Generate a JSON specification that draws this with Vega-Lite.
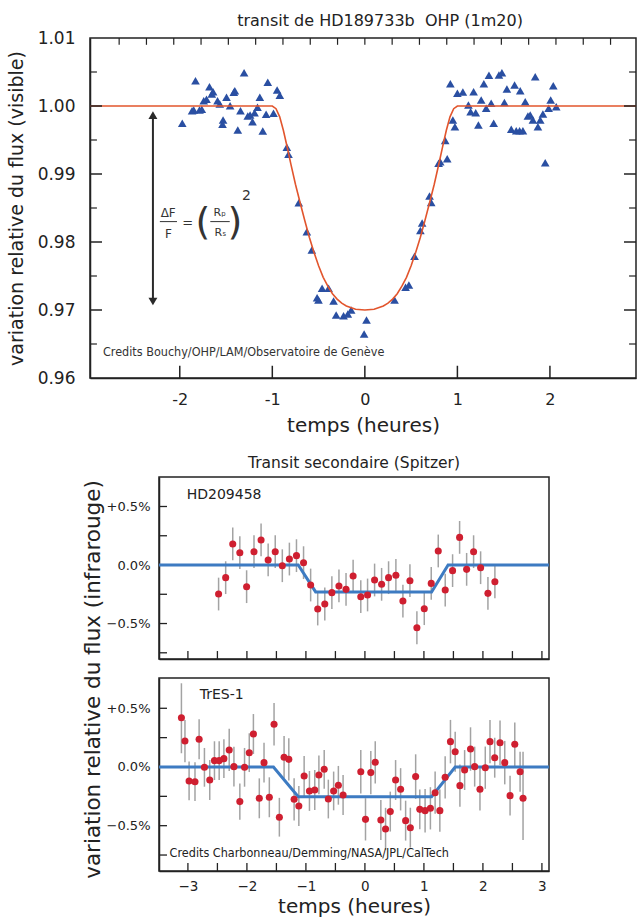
{
"$schema": "https://vega.github.io/schema/vega-lite/v6.json",
"padding": {"left": 6, "top": 12, "right": 0, "bottom": 2},
"background": "white",
"config": {
 "font": "DejaVu Sans",
 "view": {"stroke": "#222", "strokeWidth": 1.5},
 "axis": {"domainColor": "#222", "domainWidth": 1.5, "ticks": false, "labelColor": "#222", "titleColor": "#222", "grid": false, "labelFont": "DejaVu Sans", "titleFont": "DejaVu Sans", "titleFontWeight": "normal", "labelOverlap": false},
 "title": {"font": "DejaVu Sans", "fontWeight": "normal", "color": "#222"}
},
"datasets": {
 "top": [
  {"t":-1.973,"flux":0.99746},{"t":-1.83,"flux":1.00372},{"t":-1.867,"flux":0.99931},{"t":-1.849,"flux":0.99941},{"t":-1.787,"flux":0.99941},{"t":-1.762,"flux":0.99951},{"t":-1.741,"flux":1.00078},{"t":-1.711,"flux":1.00099},{"t":-1.679,"flux":1.00284},{"t":-1.64,"flux":1.0021},{"t":-1.654,"flux":1.00176},{"t":-1.592,"flux":1.00078},{"t":-1.568,"flux":1.00029},{"t":-1.532,"flux":0.99794},{"t":-1.538,"flux":0.99731},{"t":-1.495,"flux":1.00128},{"t":-1.456,"flux":1.00004},{"t":-1.416,"flux":1.00201},{"t":-1.405,"flux":1.00225},{"t":-1.373,"flux":0.99647},{"t":-1.344,"flux":0.99931},{"t":-1.305,"flux":1.0049},{"t":-1.265,"flux":0.99853},{"t":-1.24,"flux":0.99868},{"t":-1.214,"flux":0.99769},{"t":-1.192,"flux":0.99901},{"t":-1.16,"flux":0.99981},{"t":-1.135,"flux":1.00128},{"t":-1.103,"flux":0.99632},{"t":-1.067,"flux":0.99878},{"t":-1.049,"flux":1.00349},{"t":-0.987,"flux":0.99893},{"t":-0.948,"flux":1.00235},{"t":-0.919,"flux":1.00157},
  {"t":-0.843,"flux":0.99393},{"t":-0.825,"flux":0.9929},{"t":-0.714,"flux":0.98578},{"t":-0.627,"flux":0.98151},{"t":-0.573,"flux":0.97882},
  {"t":-0.516,"flux":0.97181},{"t":-0.501,"flux":0.97147},{"t":-0.462,"flux":0.97319},{"t":-0.392,"flux":0.97319},{"t":-0.338,"flux":0.97132},{"t":-0.31,"flux":0.96926},{"t":-0.23,"flux":0.96916},{"t":-0.184,"flux":0.96941},{"t":-0.148,"flux":0.97},{"t":0.018,"flux":0.96853},{"t":-0.008,"flux":0.96647},{"t":0.321,"flux":0.97147},{"t":0.44,"flux":0.97334},{"t":0.476,"flux":0.97368},
  {"t":0.537,"flux":0.9779},{"t":0.6,"flux":0.98169},{"t":0.619,"flux":0.98279},{"t":0.699,"flux":0.98676},{"t":0.717,"flux":0.98581},{"t":0.797,"flux":0.99157},{"t":0.814,"flux":0.99181},{"t":0.89,"flux":0.99225},{"t":0.868,"flux":0.99493},{"t":0.951,"flux":0.99794},{"t":0.973,"flux":0.99696},
  {"t":0.924,"flux":1.00328},{"t":1.0,"flux":1.00187},{"t":1.059,"flux":1.00206},{"t":1.119,"flux":1.00015},{"t":1.143,"flux":0.99916},{"t":1.198,"flux":0.99901},{"t":1.175,"flux":1.0021},{"t":1.227,"flux":0.99721},{"t":1.257,"flux":1.00088},{"t":1.286,"flux":1.00328},{"t":1.311,"flux":0.99966},{"t":1.341,"flux":1.00451},{"t":1.365,"flux":1.0004},{"t":1.392,"flux":0.99746},{"t":1.449,"flux":1.00456},{"t":1.481,"flux":1.0049},{"t":1.508,"flux":1.00051},{"t":1.535,"flux":1.0025},{"t":1.582,"flux":0.99657},{"t":1.618,"flux":1.00309},{"t":1.636,"flux":0.99637},{"t":1.672,"flux":0.99637},{"t":1.708,"flux":0.99637},{"t":1.679,"flux":1.00225},{"t":1.733,"flux":1.00063},{"t":1.762,"flux":0.99853},{"t":1.787,"flux":0.99868},{"t":1.816,"flux":0.99794},{"t":1.841,"flux":1.00431},{"t":1.87,"flux":0.99696},{"t":1.895,"flux":0.99794},{"t":1.924,"flux":0.99882},{"t":1.949,"flux":0.99166},{"t":1.986,"flux":0.99966},{"t":2.008,"flux":1.00088},{"t":2.036,"flux":1.00299},{"t":2.068,"flux":0.9999}
 ],
 "curve": [
  {"t":-2.97,"flux":1.0},{"t":-1.0,"flux":1.0},{"t":-0.96,"flux":0.9996},{"t":-0.92,"flux":0.9984},{"t":-0.88,"flux":0.9964},{"t":-0.84,"flux":0.994},{"t":-0.8,"flux":0.9915},{"t":-0.75,"flux":0.9885},{"t":-0.7,"flux":0.9858},{"t":-0.65,"flux":0.9832},{"t":-0.6,"flux":0.9807},{"t":-0.55,"flux":0.9785},{"t":-0.5,"flux":0.9765},{"t":-0.45,"flux":0.9748},{"t":-0.4,"flux":0.9735},{"t":-0.35,"flux":0.9724},{"t":-0.3,"flux":0.9716},{"t":-0.25,"flux":0.971},{"t":-0.2,"flux":0.9706},{"t":-0.1,"flux":0.9701},{"t":0,"flux":0.97},
  {"t":0.1,"flux":0.9701},{"t":0.2,"flux":0.9706},{"t":0.25,"flux":0.971},{"t":0.3,"flux":0.9716},{"t":0.35,"flux":0.9724},{"t":0.4,"flux":0.9735},{"t":0.45,"flux":0.9748},{"t":0.5,"flux":0.9765},{"t":0.55,"flux":0.9785},{"t":0.6,"flux":0.9807},{"t":0.65,"flux":0.9832},{"t":0.7,"flux":0.9858},{"t":0.75,"flux":0.9885},{"t":0.8,"flux":0.9915},{"t":0.84,"flux":0.994},{"t":0.88,"flux":0.9964},{"t":0.92,"flux":0.9984},{"t":0.96,"flux":0.9996},{"t":1.0,"flux":1.0},{"t":2.93,"flux":1.0}
 ],
 "topMajorY": [{"flux":0.97},{"flux":0.98},{"flux":0.99},{"flux":1.0}],
 "topMinorY": [{"flux":0.965},{"flux":0.975},{"flux":0.985},{"flux":0.995},{"flux":1.005}],
 "topBottomX": [{"t":-2},{"t":-1},{"t":0},{"t":1},{"t":2}],
 "topTopX": [{"t":-2.655},{"t":-2.36},{"t":-2.065},{"t":-1.77},{"t":-1.475},{"t":-1.18},{"t":-0.885},{"t":-0.59},{"t":-0.295},{"t":0},{"t":0.295},{"t":0.59},{"t":0.885},{"t":1.18},{"t":1.475},{"t":1.77},{"t":2.065},{"t":2.36},{"t":2.655}],
 "pTickY": [{"v":-0.75},{"v":-0.5},{"v":-0.25},{"v":0},{"v":0.25},{"v":0.5}],
 "pTickX": [{"t":-3},{"t":-2.5},{"t":-2},{"t":-1.5},{"t":-1},{"t":-0.5},{"t":0},{"t":0.5},{"t":1},{"t":1.5},{"t":2},{"t":2.5},{"t":3}],
 "p1": [
  {"t":-2.48,"v":-0.248,"lo":-0.388,"hi":-0.108},{"t":-2.36,"v":-0.108,"lo":-0.248,"hi":0.032},{"t":-2.24,"v":0.18,"lo":0.04,"hi":0.32},{"t":-2.12,"v":0.105,"lo":-0.035,"hi":0.245},{"t":-2.005,"v":-0.185,"lo":-0.325,"hi":-0.045},{"t":-1.88,"v":0.114,"lo":-0.026,"hi":0.254},{"t":-1.76,"v":0.214,"lo":0.074,"hi":0.354},{"t":-1.64,"v":0.043,"lo":-0.097,"hi":0.183},{"t":-1.52,"v":0.114,"lo":-0.026,"hi":0.254},{"t":-1.4,"v":-0.006,"lo":-0.146,"hi":0.134},{"t":-1.28,"v":0.051,"lo":-0.089,"hi":0.191},{"t":-1.16,"v":0.08,"lo":-0.06,"hi":0.22},{"t":-1.04,"v":0.02,"lo":-0.12,"hi":0.16},{"t":-0.92,"v":-0.171,"lo":-0.311,"hi":-0.031},{"t":-0.8,"v":-0.376,"lo":-0.516,"hi":-0.236},{"t":-0.68,"v":-0.333,"lo":-0.473,"hi":-0.193},{"t":-0.56,"v":-0.236,"lo":-0.376,"hi":-0.096},{"t":-0.44,"v":-0.179,"lo":-0.319,"hi":-0.039},{"t":-0.32,"v":-0.208,"lo":-0.348,"hi":-0.068},{"t":-0.2,"v":-0.094,"lo":-0.234,"hi":0.046},
  {"t":-0.07,"v":-0.271,"lo":-0.411,"hi":-0.131},{"t":0.045,"v":-0.256,"lo":-0.396,"hi":-0.116},{"t":0.164,"v":-0.128,"lo":-0.268,"hi":0.012},{"t":0.283,"v":-0.165,"lo":-0.305,"hi":-0.025},{"t":0.401,"v":-0.108,"lo":-0.248,"hi":0.032},{"t":0.525,"v":-0.088,"lo":-0.228,"hi":0.052},{"t":0.644,"v":-0.308,"lo":-0.448,"hi":-0.168},{"t":0.763,"v":-0.134,"lo":-0.274,"hi":0.006},{"t":0.881,"v":-0.536,"lo":-0.676,"hi":-0.396},{"t":1.006,"v":-0.373,"lo":-0.513,"hi":-0.233},{"t":1.124,"v":-0.157,"lo":-0.297,"hi":-0.017},{"t":1.243,"v":0.12,"lo":-0.02,"hi":0.26},{"t":1.361,"v":-0.214,"lo":-0.354,"hi":-0.074},{"t":1.486,"v":-0.048,"lo":-0.188,"hi":0.092},{"t":1.605,"v":0.236,"lo":0.096,"hi":0.376},{"t":1.724,"v":-0.037,"lo":-0.177,"hi":0.103},{"t":1.842,"v":0.114,"lo":-0.026,"hi":0.254},{"t":1.961,"v":-0.023,"lo":-0.163,"hi":0.117},{"t":2.085,"v":-0.242,"lo":-0.382,"hi":-0.102},{"t":2.203,"v":-0.143,"lo":-0.283,"hi":-0.003}
 ],
 "p1fit": [
  {"t":-3.49,"v":0},{"t":-1.13,"v":0},{"t":-0.835,"v":-0.23},{"t":1.13,"v":-0.23},{"t":1.41,"v":0},{"t":3.12,"v":0}
 ],
 "p2": [
  {"t":-3.11,"v":0.42,"lo":0.117,"hi":0.713},{"t":-3.05,"v":0.221,"lo":0.041,"hi":0.401},{"t":-2.98,"v":-0.119,"lo":-0.284,"hi":0.046},{"t":-2.88,"v":-0.125,"lo":-0.29,"hi":0.04},{"t":-2.81,"v":0.236,"lo":0.066,"hi":0.406},{"t":-2.72,"v":-0.003,"lo":-0.168,"hi":0.162},{"t":-2.63,"v":-0.111,"lo":-0.281,"hi":0.059},{"t":-2.55,"v":0.054,"lo":-0.111,"hi":0.219},{"t":-2.47,"v":0.054,"lo":-0.111,"hi":0.219},{"t":-2.39,"v":0.071,"lo":-0.094,"hi":0.236},{"t":-2.3,"v":0.145,"lo":-0.035,"hi":0.325},{"t":-2.22,"v":0.003,"lo":-0.167,"hi":0.173},{"t":-2.12,"v":-0.295,"lo":-0.45,"hi":-0.14},{"t":-2.04,"v":-0.003,"lo":-0.168,"hi":0.162},{"t":-1.96,"v":0.122,"lo":-0.043,"hi":0.287},{"t":-1.89,"v":0.281,"lo":0.111,"hi":0.451},{"t":-1.79,"v":-0.267,"lo":-0.437,"hi":-0.097},{"t":-1.71,"v":0.037,"lo":-0.133,"hi":0.207},{"t":-1.62,"v":-0.258,"lo":-0.428,"hi":-0.088},{"t":-1.54,"v":0.364,"lo":0.184,"hi":0.544},{"t":-1.45,"v":-0.428,"lo":-0.593,"hi":-0.263},{"t":-1.37,"v":0.083,"lo":-0.097,"hi":0.263},{"t":-1.29,"v":0.065,"lo":-0.115,"hi":0.245},{"t":-1.2,"v":-0.275,"lo":-0.455,"hi":-0.095},{"t":-1.12,"v":-0.332,"lo":-0.502,"hi":-0.162},{"t":-1.03,"v":-0.077,"lo":-0.247,"hi":0.093},{"t":-0.94,"v":-0.204,"lo":-0.374,"hi":-0.034},{"t":-0.85,"v":-0.196,"lo":-0.366,"hi":-0.026},{"t":-0.78,"v":-0.068,"lo":-0.233,"hi":0.097},{"t":-0.69,"v":-0.02,"lo":-0.185,"hi":0.145},{"t":-0.62,"v":-0.273,"lo":-0.438,"hi":-0.108},{"t":-0.53,"v":-0.204,"lo":-0.369,"hi":-0.039},{"t":-0.45,"v":-0.156,"lo":-0.321,"hi":0.009},{"t":-0.37,"v":-0.238,"lo":-0.408,"hi":-0.068},
  {"t":-0.07,"v":-0.04,"lo":-0.225,"hi":0.145},{"t":0.01,"v":-0.446,"lo":-0.626,"hi":-0.266},{"t":0.1,"v":-0.048,"lo":-0.233,"hi":0.137},{"t":0.175,"v":0.04,"lo":-0.14,"hi":0.22},{"t":0.27,"v":-0.451,"lo":-0.621,"hi":-0.281},{"t":0.35,"v":-0.528,"lo":-0.708,"hi":-0.348},{"t":0.43,"v":-0.38,"lo":-0.55,"hi":-0.21},{"t":0.52,"v":-0.111,"lo":-0.281,"hi":0.059},{"t":0.605,"v":-0.19,"lo":-0.37,"hi":-0.01},{"t":0.69,"v":-0.457,"lo":-0.627,"hi":-0.287},{"t":0.77,"v":-0.517,"lo":-0.687,"hi":-0.347},{"t":0.86,"v":-0.082,"lo":-0.272,"hi":0.108},{"t":0.93,"v":-0.361,"lo":-0.531,"hi":-0.191},{"t":1.02,"v":-0.372,"lo":-0.557,"hi":-0.187},{"t":1.11,"v":-0.352,"lo":-0.532,"hi":-0.172},{"t":1.19,"v":-0.219,"lo":-0.399,"hi":-0.039},{"t":1.27,"v":-0.372,"lo":-0.552,"hi":-0.192},{"t":1.36,"v":-0.088,"lo":-0.268,"hi":0.092},{"t":1.45,"v":0.216,"lo":0.031,"hi":0.401},{"t":1.53,"v":0.13,"lo":-0.04,"hi":0.3},{"t":1.61,"v":-0.159,"lo":-0.339,"hi":0.021},{"t":1.69,"v":-0.026,"lo":-0.196,"hi":0.144},{"t":1.79,"v":0.153,"lo":-0.032,"hi":0.338},{"t":1.86,"v":0.003,"lo":-0.167,"hi":0.173},{"t":1.95,"v":-0.19,"lo":-0.37,"hi":-0.01},{"t":2.04,"v":-0.006,"lo":-0.186,"hi":0.174},{"t":2.12,"v":0.216,"lo":0.031,"hi":0.401},{"t":2.2,"v":0.079,"lo":-0.091,"hi":0.249},{"t":2.29,"v":0.207,"lo":0.017,"hi":0.397},{"t":2.37,"v":0.037,"lo":-0.148,"hi":0.222},{"t":2.46,"v":-0.244,"lo":-0.414,"hi":-0.074},{"t":2.54,"v":0.193,"lo":0.008,"hi":0.378},{"t":2.63,"v":-0.04,"lo":-0.21,"hi":0.13},{"t":2.68,"v":-0.267,"lo":-0.622,"hi":0.13}
 ],
 "p2fit": [
  {"t":-3.49,"v":0},{"t":-1.55,"v":0},{"t":-1.13,"v":-0.253},{"t":1.13,"v":-0.253},{"t":1.53,"v":0},{"t":3.12,"v":0}
 ]
},
"bounds": "flush",
"spacing": 99,
"vconcat": [
 {
  "width": 546, "height": 340,
  "title": {"text": "transit de HD189733b\u00a0 OHP (1m20)", "fontSize": 16, "offset": 0, "dx": 17},
  "layer": [
   {"data": {"name": "top"},
    "mark": {"type": "point", "shape": "triangle-up", "filled": true, "color": "#2a4fa2", "size": 75, "opacity": 1},
    "encoding": {
     "x": {"field": "t", "type": "quantitative", "scale": {"domain": [-2.97, 2.93], "nice": false, "zero": false},
      "axis": {"values": [-2, -1, 0, 1, 2], "labelExpr": "datum.value < 0 ? '-' + abs(datum.value) : '' + datum.value", "labelPadding": 13, "labelFontSize": 16, "title": "temps (heures)", "titleFontSize": 20, "titlePadding": 8}},
     "y": {"field": "flux", "type": "quantitative", "scale": {"domain": [0.96, 1.01], "nice": false, "zero": false},
      "axis": {"values": [0.96, 0.97, 0.98, 0.99, 1.0, 1.01], "format": ".2f", "labelPadding": 15, "labelFontSize": 17, "title": "variation relative du flux (visible)", "titleFontSize": 19, "titlePadding": 11}}
    }},
   {"data": {"name": "curve"},
    "mark": {"type": "line", "color": "#e2552d", "strokeWidth": 1.6},
    "encoding": {"x": {"field": "t", "type": "quantitative"}, "y": {"field": "flux", "type": "quantitative"}}},
   {"data": {"name": "topMajorY"},
    "mark": {"type": "rule", "color": "#222", "strokeWidth": 1.5},
    "encoding": {"y": {"field": "flux", "type": "quantitative"}, "x": {"datum": -2.97, "type": "quantitative"}, "x2": {"datum": -2.84}}},
   {"data": {"name": "topMinorY"},
    "mark": {"type": "rule", "color": "#222", "strokeWidth": 1.2},
    "encoding": {"y": {"field": "flux", "type": "quantitative"}, "x": {"datum": -2.97, "type": "quantitative"}, "x2": {"datum": -2.895}}},
   {"data": {"name": "topMajorY"},
    "mark": {"type": "rule", "color": "#222", "strokeWidth": 1.5},
    "encoding": {"y": {"field": "flux", "type": "quantitative"}, "x": {"datum": 2.93, "type": "quantitative"}, "x2": {"datum": 2.8}}},
   {"data": {"name": "topMinorY"},
    "mark": {"type": "rule", "color": "#222", "strokeWidth": 1.2},
    "encoding": {"y": {"field": "flux", "type": "quantitative"}, "x": {"datum": 2.93, "type": "quantitative"}, "x2": {"datum": 2.855}}},
   {"data": {"name": "topBottomX"},
    "mark": {"type": "rule", "color": "#222", "strokeWidth": 1.5},
    "encoding": {"x": {"field": "t", "type": "quantitative"}, "y": {"datum": 0.96, "type": "quantitative"}, "y2": {"datum": 0.9618}}},
   {"data": {"name": "topTopX"},
    "mark": {"type": "rule", "color": "#222", "strokeWidth": 1.2},
    "encoding": {"x": {"field": "t", "type": "quantitative"}, "y": {"datum": 1.01, "type": "quantitative"}, "y2": {"datum": 1.009}}},
   {"data": {"values": [{}]},
    "mark": {"type": "rule", "color": "#2a2a2a", "strokeWidth": 2},
    "encoding": {"x": {"datum": -2.29, "type": "quantitative"}, "y": {"datum": 0.9988, "type": "quantitative"}, "y2": {"datum": 0.9714}}},
   {"data": {"values": [{}]},
    "mark": {"type": "point", "shape": "triangle-up", "filled": true, "color": "#2a2a2a", "size": 80, "opacity": 1},
    "encoding": {"x": {"datum": -2.29, "type": "quantitative"}, "y": {"datum": 0.99865, "type": "quantitative"}}},
   {"data": {"values": [{}]},
    "mark": {"type": "point", "shape": "triangle-down", "filled": true, "color": "#2a2a2a", "size": 80, "opacity": 1},
    "encoding": {"x": {"datum": -2.29, "type": "quantitative"}, "y": {"datum": 0.97125, "type": "quantitative"}}},
   {"data": {"values": [{}]},
    "mark": {"type": "text", "text": "ΔF", "fontSize": 12, "color": "#333"},
    "encoding": {"x": {"datum": -2.125, "type": "quantitative"}, "y": {"datum": 0.9843, "type": "quantitative"}}},
   {"data": {"values": [{}]},
    "mark": {"type": "text", "text": "F", "fontSize": 12, "color": "#333"},
    "encoding": {"x": {"datum": -2.122, "type": "quantitative"}, "y": {"datum": 0.9812, "type": "quantitative"}}},
   {"data": {"values": [{}]},
    "mark": {"type": "rule", "color": "#333", "strokeWidth": 1},
    "encoding": {"x": {"datum": -2.215, "type": "quantitative"}, "x2": {"datum": -2.03}, "y": {"datum": 0.983, "type": "quantitative"}}},
   {"data": {"values": [{}]},
    "mark": {"type": "text", "text": "=", "fontSize": 13, "color": "#333"},
    "encoding": {"x": {"datum": -1.914, "type": "quantitative"}, "y": {"datum": 0.9828, "type": "quantitative"}}},
   {"data": {"values": [{}]},
    "mark": {"type": "text", "text": "(", "fontSize": 38, "color": "#333"},
    "encoding": {"x": {"datum": -1.751, "type": "quantitative"}, "y": {"datum": 0.9828, "type": "quantitative"}}},
   {"data": {"values": [{}]},
    "mark": {"type": "text", "text": ")", "fontSize": 38, "color": "#333"},
    "encoding": {"x": {"datum": -1.405, "type": "quantitative"}, "y": {"datum": 0.9828, "type": "quantitative"}}},
   {"data": {"values": [{}]},
    "mark": {"type": "text", "text": "Rₚ", "fontSize": 11, "color": "#333"},
    "encoding": {"x": {"datum": -1.568, "type": "quantitative"}, "y": {"datum": 0.9842, "type": "quantitative"}}},
   {"data": {"values": [{}]},
    "mark": {"type": "text", "text": "Rₛ", "fontSize": 11, "color": "#333"},
    "encoding": {"x": {"datum": -1.56, "type": "quantitative"}, "y": {"datum": 0.9813, "type": "quantitative"}}},
   {"data": {"values": [{}]},
    "mark": {"type": "rule", "color": "#333", "strokeWidth": 1},
    "encoding": {"x": {"datum": -1.67, "type": "quantitative"}, "x2": {"datum": -1.46}, "y": {"datum": 0.983, "type": "quantitative"}}},
   {"data": {"values": [{}]},
    "mark": {"type": "text", "text": "2", "fontSize": 14, "color": "#333"},
    "encoding": {"x": {"datum": -1.28, "type": "quantitative"}, "y": {"datum": 0.9868, "type": "quantitative"}}},
   {"data": {"values": [{}]},
    "mark": {"type": "text", "text": "Credits Bouchy/OHP/LAM/Observatoire de Genève", "fontSize": 12.5, "font": "Liberation Sans Narrow, DejaVu Sans Condensed, sans-serif", "align": "left", "color": "#333"},
    "encoding": {"x": {"datum": -2.83, "type": "quantitative"}, "y": {"datum": 0.9638, "type": "quantitative"}}}
  ]
 },
 {
  "bounds": "flush",
  "spacing": 0,
  "hconcat": [
   {"width": 69, "height": 10, "view": {"stroke": null}, "data": {"values": [{}]}, "mark": {"type": "point", "opacity": 0}, "encoding": {}},
   {
    "bounds": "flush",
    "spacing": 19,
    "vconcat": [
     {
      "width": 390, "height": 182,
      "title": {"text": "Transit secondaire (Spitzer)", "fontSize": 15.5, "offset": 6},
      "layer": [
       {"data": {"name": "p1"},
        "mark": {"type": "rule", "color": "#a3a3a3", "strokeWidth": 1.5},
        "encoding": {
         "x": {"field": "t", "type": "quantitative", "scale": {"domain": [-3.49, 3.12], "nice": false, "zero": false},
          "axis": {"labels": false, "title": null}},
         "y": {"field": "lo", "type": "quantitative", "scale": {"domain": [-0.803, 0.752], "nice": false, "zero": false},
          "axis": {"values": [-0.5, 0, 0.5], "labelExpr": "(datum.value > 0.01 ? '+' : datum.value < -0.01 ? '−' : '') + format(abs(datum.value), '.1f') + '%'", "labelPadding": 9, "labelFontSize": 13, "title": null}},
         "y2": {"field": "hi"}
        }},
       {"data": {"name": "pTickY"},
        "mark": {"type": "rule", "color": "#222", "strokeWidth": 1.3},
        "encoding": {"y": {"field": "v", "type": "quantitative"}, "x": {"datum": -3.49, "type": "quantitative"}, "x2": {"datum": -3.354}}},
       {"data": {"name": "pTickX"},
        "mark": {"type": "rule", "color": "#222", "strokeWidth": 1.3},
        "encoding": {"x": {"field": "t", "type": "quantitative"}, "y": {"datum": -0.803, "type": "quantitative"}, "y2": {"datum": -0.735}}},
       {"data": {"name": "p1fit"},
        "mark": {"type": "line", "color": "#3d7bc2", "strokeWidth": 3},
        "encoding": {"x": {"field": "t", "type": "quantitative"}, "y": {"field": "v", "type": "quantitative"}}},
       {"data": {"name": "p1"},
        "mark": {"type": "point", "filled": true, "color": "#cf1f30", "size": 50, "opacity": 1},
        "encoding": {"x": {"field": "t", "type": "quantitative"}, "y": {"field": "v", "type": "quantitative"}}},
       {"data": {"values": [{}]},
        "mark": {"type": "text", "text": "HD209458", "fontSize": 14, "align": "left", "color": "#222"},
        "encoding": {"x": {"datum": -3.02, "type": "quantitative"}, "y": {"datum": 0.6, "type": "quantitative"}}}
      ]
     },
     {
      "width": 390, "height": 193,
      "layer": [
       {"data": {"name": "p2"},
        "mark": {"type": "rule", "color": "#a3a3a3", "strokeWidth": 1.5},
        "encoding": {
         "x": {"field": "t", "type": "quantitative", "scale": {"domain": [-3.49, 3.12], "nice": false, "zero": false},
          "axis": {"values": [-3, -2, -1, 0, 1, 2, 3], "labelExpr": "datum.value < 0 ? '−' + abs(datum.value) : '' + datum.value", "labelPadding": 8, "labelFontSize": 13.5, "title": "temps (heures)", "titleFontSize": 20, "titlePadding": 4}},
         "y": {"field": "lo", "type": "quantitative", "scale": {"domain": [-0.886, 0.758], "nice": false, "zero": false},
          "axis": {"values": [-0.5, 0, 0.5], "labelExpr": "(datum.value > 0.01 ? '+' : datum.value < -0.01 ? '−' : '') + format(abs(datum.value), '.1f') + '%'", "labelPadding": 9, "labelFontSize": 13, "title": "variation relative du flux (infrarouge)", "titleFontSize": 21.5, "titleX": -55, "titleY": 1, "titleAngle": -90, "titleAlign": "center", "titleBaseline": "bottom"}},
         "y2": {"field": "hi"}
        }},
       {"data": {"name": "pTickY"},
        "mark": {"type": "rule", "color": "#222", "strokeWidth": 1.3},
        "encoding": {"y": {"field": "v", "type": "quantitative"}, "x": {"datum": -3.49, "type": "quantitative"}, "x2": {"datum": -3.354}}},
       {"data": {"name": "pTickX"},
        "mark": {"type": "rule", "color": "#222", "strokeWidth": 1.3},
        "encoding": {"x": {"field": "t", "type": "quantitative"}, "y": {"datum": -0.886, "type": "quantitative"}, "y2": {"datum": -0.818}}},
       {"data": {"name": "p2fit"},
        "mark": {"type": "line", "color": "#3d7bc2", "strokeWidth": 3},
        "encoding": {"x": {"field": "t", "type": "quantitative"}, "y": {"field": "v", "type": "quantitative"}}},
       {"data": {"name": "p2"},
        "mark": {"type": "point", "filled": true, "color": "#cf1f30", "size": 50, "opacity": 1},
        "encoding": {"x": {"field": "t", "type": "quantitative"}, "y": {"field": "v", "type": "quantitative"}}},
       {"data": {"values": [{}]},
        "mark": {"type": "text", "text": "TrES-1", "fontSize": 14, "align": "left", "color": "#222"},
        "encoding": {"x": {"datum": -2.8, "type": "quantitative"}, "y": {"datum": 0.61, "type": "quantitative"}}},
       {"data": {"values": [{}]},
        "mark": {"type": "text", "text": "Credits Charbonneau/Demming/NASA/JPL/CalTech", "fontSize": 12.5, "font": "DejaVu Sans Condensed, sans-serif", "align": "left", "color": "#222"},
        "encoding": {"x": {"datum": -3.31, "type": "quantitative"}, "y": {"datum": -0.73, "type": "quantitative"}}}
      ]
     }
    ]
   }
  ]
 }
]
}
